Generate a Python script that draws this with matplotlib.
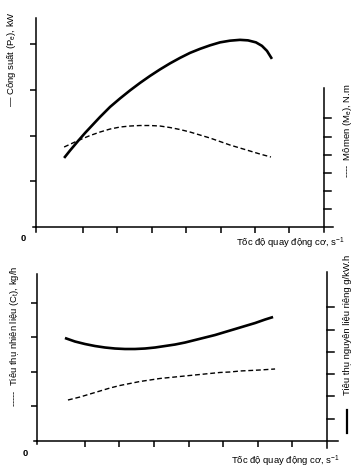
import matplotlib
matplotlib.use("Agg")
import matplotlib.pyplot as plt
from matplotlib.lines import Line2D

plt.rcParams['font.family'] = ['Liberation Sans', 'DejaVu Sans']
plt.rcParams['mathtext.fontset'] = 'custom'
plt.rcParams['mathtext.rm'] = 'Liberation Sans'
plt.rcParams['mathtext.default'] = 'regular'

# ---- data (tick units) ----
# top panel: power (left axis) and torque (right axis)
speed_power = [0.448, 0.622, 0.855, 1.058, 1.262, 1.494, 1.785, 2.076, 2.366, 2.657,
               2.948, 3.238, 3.529, 3.820, 4.110, 4.401, 4.692, 4.983, 5.273, 5.564,
               5.797, 6.029, 6.203, 6.349, 6.494]
power = [1.510, 1.674, 1.882, 2.057, 2.221, 2.407, 2.626, 2.812, 2.987, 3.151,
         3.304, 3.446, 3.578, 3.698, 3.807, 3.895, 3.972, 4.037, 4.074, 4.092,
         4.081, 4.037, 3.961, 3.851, 3.676]
speed_torque = [0.448, 0.855, 1.203, 1.494, 1.785, 2.076, 2.366, 2.657, 2.948, 3.238,
                3.529, 3.820, 4.110, 4.401, 4.692, 4.983, 5.273, 5.564, 5.855, 6.145, 6.465]
torque = [4.420, 4.779, 5.055, 5.249, 5.414, 5.525, 5.580, 5.608, 5.608, 5.580,
          5.497, 5.387, 5.249, 5.083, 4.917, 4.724, 4.530, 4.365, 4.199, 4.033, 3.867]
# bottom panel: specific consumption (right axis) and fuel consumption (left axis)
speed_sfc = [0.420, 0.710, 1.000, 1.290, 1.580, 1.870, 2.159, 2.449, 2.739, 3.029, 3.319,
             3.609, 3.899, 4.188, 4.478, 4.768, 5.058, 5.348, 5.638, 5.928, 6.217, 6.449]
sfc = [4.619, 4.462, 4.350, 4.260, 4.193, 4.148, 4.126, 4.126, 4.148, 4.193, 4.260,
       4.327, 4.417, 4.529, 4.641, 4.753, 4.888, 5.022, 5.157, 5.291, 5.448, 5.561]
speed_fuel = [0.507, 0.855, 1.145, 1.435, 1.725, 2.014, 2.304, 2.594, 2.884, 3.174, 3.464,
              3.754, 4.043, 4.333, 4.623, 4.913, 5.203, 5.493, 5.783, 6.072, 6.507]
fuel = [1.188, 1.275, 1.362, 1.449, 1.536, 1.609, 1.667, 1.725, 1.768, 1.812, 1.841,
        1.870, 1.899, 1.928, 1.957, 1.986, 2.000, 2.029, 2.043, 2.058, 2.087]

x_ticks = [1, 2, 3, 4, 5, 6, 7]
top_left_ticks = [1, 2, 3, 4]
top_right_ticks = [1, 2, 3, 4, 5, 6]
bot_left_ticks = [1, 2, 3, 4]
bot_right_ticks = [1, 2, 3, 4, 5, 6]

W, H = 363, 469
fig = plt.figure(figsize=(W / 100, H / 100), dpi=100)


def fx(x):
    return x / W


def fy(y):
    return 1 - y / H


LW_AX = 1.1
FS = 6.8


def make_panel(left, right, top, base, xlim, ylim_l, ylim_r, rtop_val):
    ax = fig.add_axes([fx(left), fy(base), fx(right) - fx(left), fy(top) - fy(base)])
    ax2 = ax.twinx()
    ax.set_xlim(*xlim)
    ax.set_ylim(*ylim_l)
    ax2.set_ylim(*ylim_r)
    for a in (ax, ax2):
        for s in a.spines.values():
            s.set_visible(False)
        a.patch.set_visible(False)
    ax.spines['bottom'].set_visible(True)
    ax.spines['bottom'].set_linewidth(LW_AX)
    ax.spines['left'].set_visible(True)
    ax.spines['left'].set_linewidth(LW_AX)
    ax.tick_params(axis='both', direction='out', length=4.5, width=LW_AX,
                   labelleft=False, labelbottom=False)
    ax2.tick_params(axis='y', right=False, labelright=False)
    ax2.plot([8, 8], [ylim_r[0] - 0.3, rtop_val], color='black', lw=LW_AX, clip_on=False)
    ax.plot([xlim[0], xlim[0]], [ylim_l[0], ylim_l[0] - 0.1], color='black', lw=LW_AX, clip_on=False)
    ax.plot([xlim[0] - 0.08, xlim[0]], [ylim_l[0], ylim_l[0]], color='black', lw=LW_AX, clip_on=False)
    return ax, ax2


# top panel
axA, axA2 = make_panel(36, 333, 18, 227, (-0.37, 8.27), (0, 4.57), (0, 11.55), 7.68)
axA.set_xticks(x_ticks)
axA.set_yticks(top_left_ticks)
for t in top_right_ticks:
    axA2.plot([8, 8.2], [t, t], color='black', lw=LW_AX, clip_on=False)
axA.plot(speed_power, power, color='black', lw=1.9, solid_joinstyle='round', solid_capstyle='butt')
axA2.plot(speed_torque, torque, color='black', lw=1.0, dashes=(3.5, 2.0))

# bottom panel
axB, axB2 = make_panel(37, 338, 274, 441, (-0.39, 8.33), (0, 4.84), (0, 7.49), 7.58)
axB.set_xticks(x_ticks)
axB.set_yticks(bot_left_ticks)
for t in bot_right_ticks:
    axB2.plot([8, 8.2], [t, t], color='black', lw=LW_AX, clip_on=False)
axB2.plot(speed_sfc, sfc, color='black', lw=1.9, solid_joinstyle='round', solid_capstyle='butt')
axB.plot(speed_fuel, fuel, color='black', lw=1.0, dashes=(3.5, 2.0))

# texts
fig.text(fx(23), fy(238), "0", fontsize=FS, ha='center', va='center', fontweight='bold')
fig.text(fx(25), fy(453), "0", fontsize=FS, ha='center', va='center', fontweight='bold')
fig.text(fx(345), fy(243), "Tốc độ quay động cơ, s$^{-1}$", fontsize=FS, ha='right', va='center')
fig.text(fx(340), fy(461), "Tốc độ quay động cơ, s$^{-1}$", fontsize=FS, ha='right', va='center')

fig.text(fx(12), fy(59), "— Công suất (P$_e$), kW", fontsize=FS, rotation=90, ha='center', va='center')
fig.text(fx(347), fy(131), "----  Mômen (M$_e$), N.m", fontsize=FS, rotation=90, ha='center', va='center')
fig.text(fx(15), fy(336), "-----  Tiêu thụ nhiên liệu (C$_t$), kg/h", fontsize=FS, rotation=90, ha='center', va='center')
fig.text(fx(347), fy(325), "Tiêu thụ nguyên liệu riêng g/kW.h", fontsize=FS, rotation=90, ha='center', va='center')
fig.add_artist(Line2D([fx(347), fx(347)], [fy(410), fy(433)], color='black', lw=1.6,
                      transform=fig.transFigure))

fig.savefig("out.png", dpi=100)
